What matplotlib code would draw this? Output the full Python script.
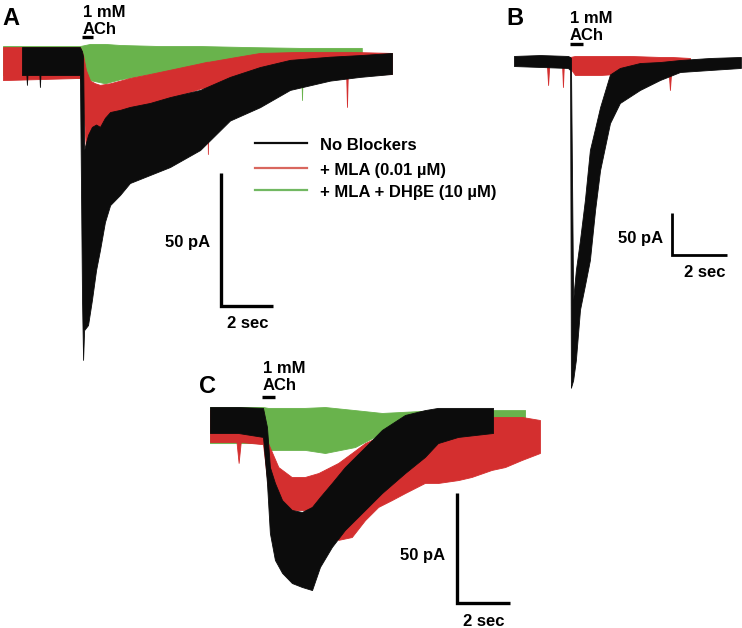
import numpy as np
import matplotlib.pyplot as plt

plt.rcParams['font.family'] = ['Liberation Sans', 'DejaVu Sans']
plt.rcParams['font.weight'] = 'bold'

W, H = 742, 628

# ---- Panel A traces: time (s), upper / lower envelope (pA) ----
a_t_black = [0.73, 0.9, 0.92, 0.94, 1.4, 1.42, 1.44, 2.96, 3.04, 3.08, 3.12, 3.27, 3.42, 3.58,
             3.73, 3.92, 4.12, 4.5, 4.88, 5.65, 6.42, 7.58, 8.73, 9.88, 11.04, 12.58, 13.73, 14.96]
a_hi_black = [5.6, 5.6, 5.6, 5.6, 5.6, 5.6, 5.6, 5.6, 4.0, 2.0, -33.0, -27.4, -24.4, -23.5,
              -24.4, -21.0, -18.8, -18.0, -16.9, -15.4, -13.2, -10.5, -5.6, -1.9, 0.8, 2.0, 2.6, 3.4]
a_lo_black = [-4.9, -4.9, -8.6, -4.9, -4.9, -9.4, -4.9, -4.9, -89.5, -112.0, -100.8, -98.9, -89.5, -78.2,
              -70.7, -60.2, -53.8, -50.0, -45.5, -42.5, -39.5, -33.1, -22.0, -17.0, -10.5, -7.0, -5.6, -4.5]

a_t_red = [0.0, 2.96, 3.08, 3.19, 3.35, 3.54, 3.73, 4.12, 4.88, 5.65, 6.62, 7.58, 7.85, 7.88,
           7.91, 8.73, 9.88, 11.42, 13.2, 13.23, 13.26, 13.35, 14.96]
a_hi_red = [5.6, 5.6, 2.6, -3.0, -7.0, -8.0, -8.6, -8.0, -6.0, -4.5, -2.5, -0.5, 0.1, 0.1,
            0.1, 1.5, 3.4, 3.8, 3.8, 3.8, 3.8, 3.8, 3.4]
a_lo_red = [-6.8, -6.0, -14.3, -33.1, -29.3, -27.0, -25.0, -22.0, -19.0, -16.0, -13.0, -10.0, -9.5, -34.6,
            -9.4, -8.0, -6.0, -5.0, -5.0, -16.9, -5.0, -5.0, -4.5]

a_t_green = [0.0, 2.96, 3.35, 3.92, 4.5, 6.04, 7.58, 9.5, 11.42, 11.47, 11.5, 11.53, 13.8]
a_hi_green = [6.0, 6.0, 6.8, 6.8, 6.4, 6.0, 6.0, 5.6, 5.3, 5.3, 5.3, 5.3, 5.3]
a_lo_green = [-4.9, -6.0, -6.8, -8.0, -6.5, -3.8, -2.3, -1.5, -1.1, -1.1, -14.3, -1.1, -1.1]

# ---- Panel B traces ----
b_t_black = [0.0, 0.95, 1.96, 2.04, 2.07, 2.15, 2.25, 2.4, 2.58, 2.76, 2.95, 3.13, 3.49,
             3.85, 4.58, 5.31, 6.04, 7.13, 8.25]
b_hi_black = [6.0, 7.1, 6.0, 4.8, 3.6, -284.0, -249.0, -213.0, -165.0, -106.0, -80.0, -55.0, -16.0,
              -8.3, -2.4, -1.2, 1.2, 3.6, 4.8]
b_lo_black = [-6.0, -7.1, -8.3, -10.7, -389.0, -380.0, -356.0, -296.0, -267.0, -237.0, -177.0, -130.0, -74.0,
              -50.0, -34.5, -22.6, -13.1, -10.7, -8.3]

b_t_red = [0.76, 1.2, 1.24, 1.28, 1.75, 1.78, 1.81, 2.04, 2.22, 3.13, 4.22, 5.31, 5.62, 5.67, 5.72, 6.4]
b_hi_red = [4.8, 4.8, 4.8, 4.8, 4.8, 4.8, 4.8, 4.8, 6.0, 6.0, 6.0, 4.8, 4.8, 4.8, 4.8, 3.6]
b_lo_red = [-6.0, -6.0, -28.6, -6.0, -6.0, -31.0, -6.0, -8.3, -16.7, -16.7, -14.3, -10.7, -10.7, -34.5, -10.7, -6.0]

# ---- Panel C traces ----
c_t_black = [0.0, 1.06, 2.0, 2.15, 2.26, 2.45, 2.72, 3.09, 3.47, 3.85, 4.15, 4.6, 5.09,
             5.85, 6.49, 7.36, 8.11, 8.6, 9.36, 10.68]
c_hi_black = [5.9, 5.9, 5.5, -3.2, -21.4, -28.6, -36.4, -40.9, -41.8, -39.5, -35.0, -28.6, -21.4,
              -12.3, -4.5, 2.3, 4.5, 5.5, 5.5, 5.5]
c_lo_black = [-5.9, -5.9, -7.7, -28.6, -51.4, -63.6, -69.5, -74.1, -75.9, -77.3, -66.8, -57.7, -50.0,
              -40.9, -33.2, -24.1, -16.8, -10.5, -7.7, -5.9]

c_t_red = [0.0, 1.0, 1.08, 1.16, 2.0, 2.19, 2.58, 3.08, 3.58, 4.09, 4.84, 5.35, 5.85,
           6.35, 6.86, 7.36, 8.11, 8.62, 9.37, 9.87, 10.63, 11.13, 11.76, 12.45]
c_hi_red = [4.5, 4.5, 4.5, 4.5, 4.5, -10.5, -21.4, -25.9, -25.9, -24.1, -19.5, -15.0, -10.5,
            -7.7, -4.5, -1.4, 0.0, 0.9, 1.4, 1.4, 1.4, 1.4, 1.4, 0.0]
c_lo_red = [-10.0, -10.0, -19.5, -10.0, -11.0, -30.5, -35.0, -40.9, -40.9, -40.9, -54.5, -53.2, -45.5,
            -39.5, -36.4, -33.2, -28.6, -28.6, -27.3, -25.9, -22.7, -21.4, -18.2, -15.0]

c_t_green = [0.0, 2.0, 2.19, 3.58, 4.34, 5.47, 6.49, 8.6, 11.89]
c_hi_green = [5.9, 5.9, 5.5, 5.5, 5.9, 4.5, 3.2, 4.5, 4.5]
c_lo_green = [-10.5, -10.5, -13.6, -13.6, -15.0, -12.3, -5.9, -4.5, -1.4]

legend_labels = ['No Blockers', '+ MLA (0.01 \u00b5M)', '+ MLA + DH\u03b2E (10 \u00b5M)']

BLACK = '#0c0c0c'
RED = '#d42f2f'
GREEN = '#69b34c'

fig = plt.figure(figsize=(W / 100, H / 100), dpi=100)


def panel(x0, y0, pxs, pxp):
    # full-figure axes in sec / pA; (x0, y0) is the pixel of t=0, I=0
    ax = fig.add_axes([0, 0, 1, 1])
    ax.set_xlim(-x0 / pxs, (W - x0) / pxs)
    ax.set_ylim(-(H - y0) / pxp, y0 / pxp)
    ax.axis('off')
    ax.patch.set_alpha(0)
    return ax


def trace(ax, t, hi, lo, color, z):
    ax.fill_between(t, lo, hi, color=color, lw=0.6, edgecolor=color, zorder=z)


def scalebar(ax, t0, i0, lw):
    ax.plot([t0, t0, t0 + 2], [i0 + 50, i0, i0], color='k', lw=lw,
            solid_capstyle='butt', solid_joinstyle='miter')


def txt(x, y, s, size=12, ha='left'):
    fig.text(x / W, 1 - y / H, s, fontsize=size, fontweight='bold', ha=ha, va='baseline')


# Panel A
axA = panel(3, 62, 26.0, 2.66)
trace(axA, a_t_green, a_hi_green, a_lo_green, GREEN, 1)
trace(axA, a_t_red, a_hi_red, a_lo_red, RED, 2)
trace(axA, a_t_black, a_hi_black, a_lo_black, BLACK, 3)
axA.plot([3.04, 3.46], [9.4, 9.4], color='k', lw=2.4, solid_capstyle='butt')
scalebar(axA, 8.38, -91.7, 2.4)

# Panel B
axB = panel(514, 61, 27.5, 0.84)
trace(axB, b_t_red, b_hi_red, b_lo_red, RED, 2)
trace(axB, b_t_black, b_hi_black, b_lo_black, BLACK, 3)
axB.plot([2.04, 2.51], [20.2, 20.2], color='k', lw=2.4, solid_capstyle='butt')
scalebar(axB, 5.75, -231.0, 2.0)

# Panel C
axC = panel(210, 420, 26.5, 2.2)
trace(axC, c_t_green, c_hi_green, c_lo_green, GREEN, 1)
trace(axC, c_t_red, c_hi_red, c_lo_red, RED, 2)
trace(axC, c_t_black, c_hi_black, c_lo_black, BLACK, 3)
axC.plot([1.96, 2.45], [10.5, 10.5], color='k', lw=2.4, solid_capstyle='butt')
scalebar(axC, 9.32, -83.2, 2.4)

# legend (panel A)
for (y, c), lab in zip([(143, BLACK), (168, '#d9675e'), (190, '#72b862')], legend_labels):
    fig.add_artist(plt.Line2D([255 / W, 307 / W], [1 - y / H, 1 - y / H], color=c, lw=1.6))
    txt(320, y + 6.5, lab)

# labels
txt(2, 25, 'A', size=17)
txt(506, 25, 'B', size=17)
txt(199, 393, 'C', size=17)
for x, y in [(83, 17), (570, 23), (263, 373)]:
    txt(x, y, '1 mM')
    txt(x, y + 16.5, 'ACh')
txt(210, 247, '50 pA', ha='right')
txt(248, 328, '2 sec', ha='center')
txt(663, 243, '50 pA', ha='right')
txt(705, 277, '2 sec', ha='center')
txt(445, 560, '50 pA', ha='right')
txt(484, 626, '2 sec', ha='center')

fig.savefig('out.png', dpi=100)
